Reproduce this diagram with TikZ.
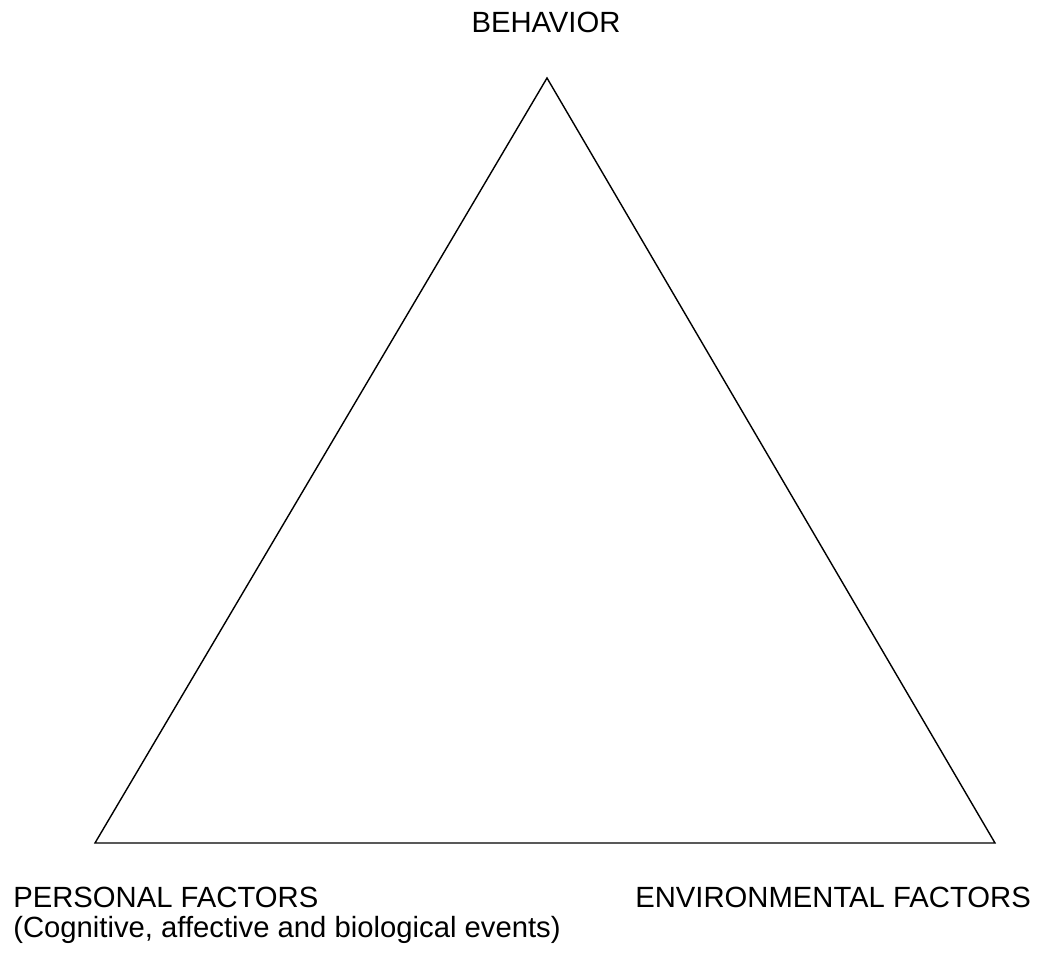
\documentclass[tikz,border=0pt]{standalone}
\usepackage{fontspec}
\setmainfont{Liberation Sans}
\usetikzlibrary{positioning}

\begin{document}
\begin{tikzpicture}[x=0.025cm,y=-0.025cm,
  factorlabel/.style={inner sep=0pt,font=\fontsize{20.8}{24}\selectfont},
  triangleside/.style={draw,line width=1pt,line join=miter}
]
  \useasboundingbox (0,0) rectangle (1048,953);
  % corners of the triangle
  \coordinate (behaviorcorner) at (547,78);
  \coordinate (personalcorner) at (95,843);
  \coordinate (environcorner) at (995,843);
  \draw[triangleside] (behaviorcorner) -- (personalcorner) -- (environcorner) -- cycle;
  % labels
  \node[factorlabel,anchor=base] (behavior) at (546,33) {BEHAVIOR};
  \node[factorlabel,anchor=base west] (personal) at (13,907) {PERSONAL FACTORS};
  \node[factorlabel,anchor=base west] (personalevents) at (13,937) {(Cognitive, affective and biological events)};
  \node[factorlabel,anchor=base west] (environ) at (635,907) {ENVIRONMENTAL FACTORS};
\end{tikzpicture}
\end{document}
